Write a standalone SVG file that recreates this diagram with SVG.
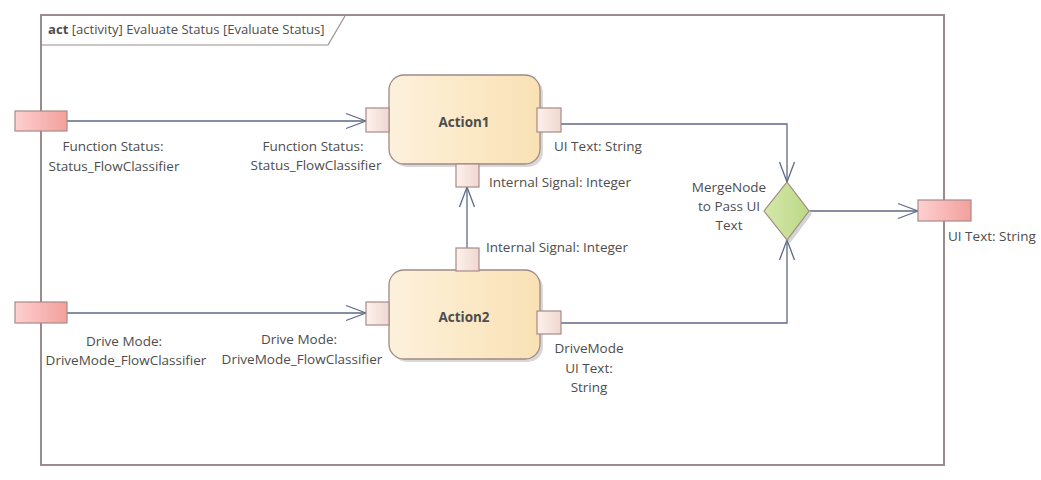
<svg xmlns="http://www.w3.org/2000/svg" width="1041" height="480" viewBox="0 0 1041 480">
<defs>
<linearGradient id="gPinExt" x1="0" y1="0" x2="1" y2="0"><stop offset="0" stop-color="#fdd0d0"/><stop offset="1" stop-color="#f3a09c"/></linearGradient>
<linearGradient id="gPin" x1="0" y1="0" x2="1" y2="0"><stop offset="0" stop-color="#fdf1ec"/><stop offset="1" stop-color="#efd8d0"/></linearGradient>
<linearGradient id="gAct" x1="0" y1="0" x2="1" y2="0"><stop offset="0" stop-color="#fdf1dc"/><stop offset="1" stop-color="#f9e1b4"/></linearGradient>
<linearGradient id="gMerge" x1="0" y1="0" x2="1" y2="0"><stop offset="0" stop-color="#d4e8a8"/><stop offset="1" stop-color="#bcd888"/></linearGradient>
<marker id="arr" markerWidth="22" markerHeight="18" refX="21" refY="9" orient="auto" markerUnits="userSpaceOnUse"><path d="M1,1.5 L21,9 L1,16.5" fill="none" stroke="#5d6a86" stroke-width="1.3"/></marker>
</defs>
<style>
text{font-family:"Open Sans","Liberation Sans",sans-serif;font-size:13.5px;fill:#4d4d4d}
.t{font-size:13.1px}
.c{text-anchor:middle}
.b{font-weight:bold}
.pinx{fill:url(#gPinExt);stroke:#a88a88;stroke-width:1.2}
.pin{fill:url(#gPin);stroke:#a88a88;stroke-width:1.2}
.act{fill:url(#gAct);stroke:#a08a86;stroke-width:1.3}
.sh{fill:#d8d8d8}
.con{fill:none;stroke:#5d6a86;stroke-width:1.3;marker-end:url(#arr)}
</style>
<rect width="1041" height="480" fill="#ffffff"/>
<g id="frame">
<rect x="41" y="15" width="903" height="450" fill="none" stroke="#9a8c8c" stroke-width="2"/>
<path d="M41,45 L328,45 L345,16" fill="#ffffff" stroke="#9a8c8c" stroke-width="1.2"/>
<text class="t" x="48" y="34"><tspan class="b">act</tspan> [activity] Evaluate Status [Evaluate Status]</text>
</g>
<g id="connectors">
<path class="con" d="M67,121 L366,121"/>
<path class="con" d="M67,313 L366,313"/>
<path class="con" d="M561,124 L787,124 L787,182"/>
<path class="con" d="M561,323 L787,323 L787,240"/>
<path class="con" d="M809,211 L918,211"/>
<path class="con" d="M467,248 L467,187"/>
</g>
<g id="pinFunctionStatus">
<rect class="pinx" x="15" y="111" width="52" height="20"/>
<text class="c" x="113" y="151">Function Status:</text>
<text class="c" x="114" y="171">Status_FlowClassifier</text>
</g>
<g id="pinDriveMode">
<rect class="pinx" x="15" y="302" width="52" height="21"/>
<text class="c" x="124" y="346">Drive Mode:</text>
<text class="c" x="126" y="365">DriveMode_FlowClassifier</text>
</g>
<g id="pinUIText">
<rect class="pinx" x="918" y="200" width="53" height="21"/>
<text x="948" y="241">UI Text: String</text>
</g>
<g id="action1">
<rect class="sh" x="392" y="78" width="151" height="89" rx="15"/>
<rect class="act" x="389" y="75" width="151" height="89" rx="15"/>
<text class="c b" x="464" y="127">Action1</text>
<rect class="pin" x="366" y="108" width="23" height="24"/>
<text class="c" x="313" y="151">Function Status:</text>
<text class="c" x="316" y="170">Status_FlowClassifier</text>
<rect class="pin" x="537" y="108" width="24" height="24"/>
<text x="554" y="151">UI Text: String</text>
<rect class="pin" x="456" y="164" width="23" height="23"/>
<text x="489" y="187">Internal Signal: Integer</text>
</g>
<g id="action2">
<rect class="sh" x="392" y="273" width="151" height="89" rx="15"/>
<rect class="act" x="389" y="270" width="151" height="89" rx="15"/>
<text class="c b" x="464" y="322">Action2</text>
<rect class="pin" x="456" y="248" width="23" height="23"/>
<text x="486" y="252">Internal Signal: Integer</text>
<rect class="pin" x="366" y="302" width="23" height="23"/>
<text class="c" x="299" y="344">Drive Mode:</text>
<text class="c" x="302" y="364">DriveMode_FlowClassifier</text>
<rect class="pin" x="537" y="311" width="24" height="23"/>
<text class="c" x="589" y="353">DriveMode</text>
<text class="c" x="589" y="373">UI Text:</text>
<text class="c" x="589" y="392">String</text>
</g>
<g id="mergeNode">
<path d="M790,185 L812,214 L790,243 L767,214 Z" fill="#d4d4d4"/>
<path d="M787,182 L809,211 L787,240 L764,211 Z" fill="url(#gMerge)" stroke="#a08a80" stroke-width="1.2"/>
<text class="c" x="729" y="192">MergeNode</text>
<text class="c" x="729" y="211">to Pass UI</text>
<text class="c" x="729" y="230">Text</text>
</g>
</svg>
